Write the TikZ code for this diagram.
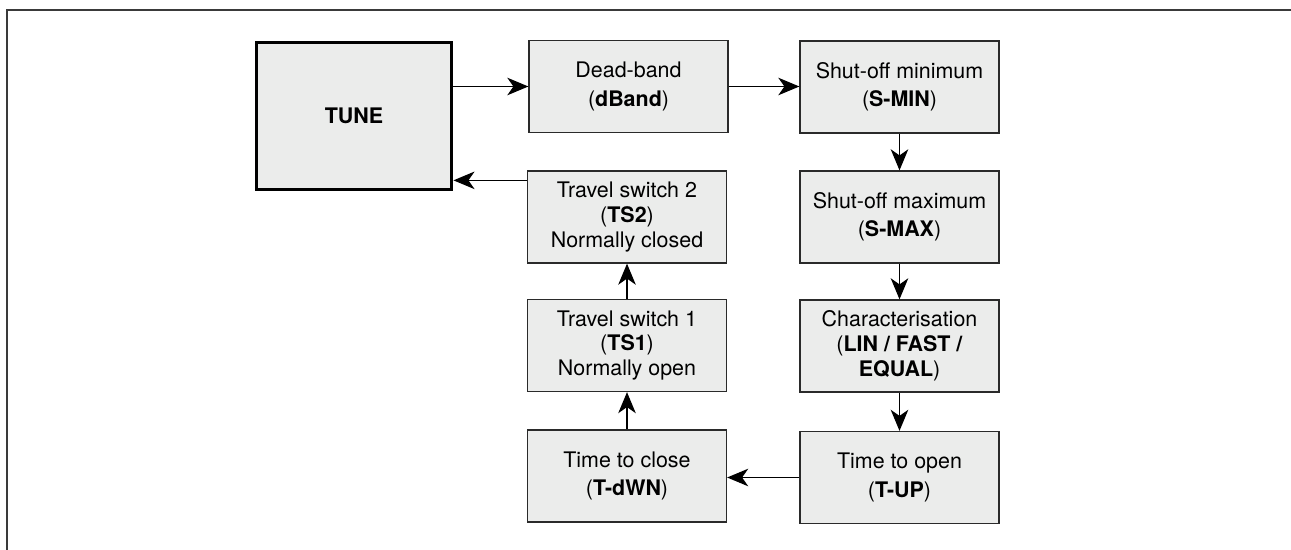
\documentclass[tikz,border=0pt]{standalone}
\usepackage{fontspec}
\setmainfont{TeX Gyre Heros}
\usetikzlibrary{arrows.meta,calc}
\definecolor{boxfill}{HTML}{EBECEB}
\definecolor{boxline}{HTML}{2A2A2A}
\definecolor{framecol}{HTML}{3A3A3A}
\tikzset{
  stepbox/.style={draw=boxline, line width=0.75pt, fill=boxfill, minimum width=3.98cm, minimum height=1.84cm,
    inner sep=0pt, align=center, font=\fontsize{12.2}{14.2}\selectfont},
  tunebox/.style={draw=black, line width=1.7pt, fill=boxfill, minimum width=3.92cm, minimum height=2.96cm,
    inner sep=0pt, align=center, font=\fontsize{12.2}{14.2}\selectfont\bfseries},
  flow/.style={draw=black, line width=0.65pt, -{Stealth[length=12pt,width=10pt,inset=3.5pt]}},
}
\begin{document}
\begin{tikzpicture}[x=0.02cm,y=-0.02cm]
\useasboundingbox (0,0) rectangle (1291,550);
\draw[framecol, line width=0.75pt] (7,550) -- (7,10) -- (1291,10);

\node[tunebox] (tune) at (354,116) {TUNE};
\node[stepbox] (dband) at (628.5,86.5) {Dead-band\\[1.8pt](\textbf{dBand})};
\node[stepbox] (smin) at (899.5,87) {Shut-off minimum\\[1.8pt](\textbf{S-MIN})};
\node[stepbox] (smax) at (899.5,217) {Shut-off maximum\\[1.8pt](\textbf{S-MAX})};
\node[stepbox] (char) at (899.5,346) {Characterisation\\(\textbf{LIN / FAST /}\\\textbf{EQUAL})};
\node[stepbox] (tup) at (899.5,477.5) {Time to open\\[1.8pt](\textbf{T-UP})};
\node[stepbox] (tdwn) at (627,476) {Time to close\\[1.8pt](\textbf{T-dWN})};
\node[stepbox] (ts1) at (627,345.5) {Travel switch 1\\(\textbf{TS1})\\Normally open};
\node[stepbox] (ts2) at (627,217) {Travel switch 2\\(\textbf{TS2})\\Normally closed};

\coordinate (ts2out) at ($(ts2.north west)+(0,10)$);

\draw[flow] (tune.east |- dband.west) -- (dband.west);
\draw[flow] (dband.east) -- (smin.west |- dband.east);
\draw[flow] (smin.south) -- (smax.north);
\draw[flow] (smax.south) -- (char.north);
\draw[flow] (char.south) -- (tup.north);
\draw[flow] (tup.west) -- (tdwn.east |- tup.west);
\draw[flow] (tdwn.north) -- (ts1.south);
\draw[flow] (ts1.north) -- (ts2.south);
\draw[flow] (ts2out) -- (tune.east |- ts2out);
\end{tikzpicture}
\end{document}
